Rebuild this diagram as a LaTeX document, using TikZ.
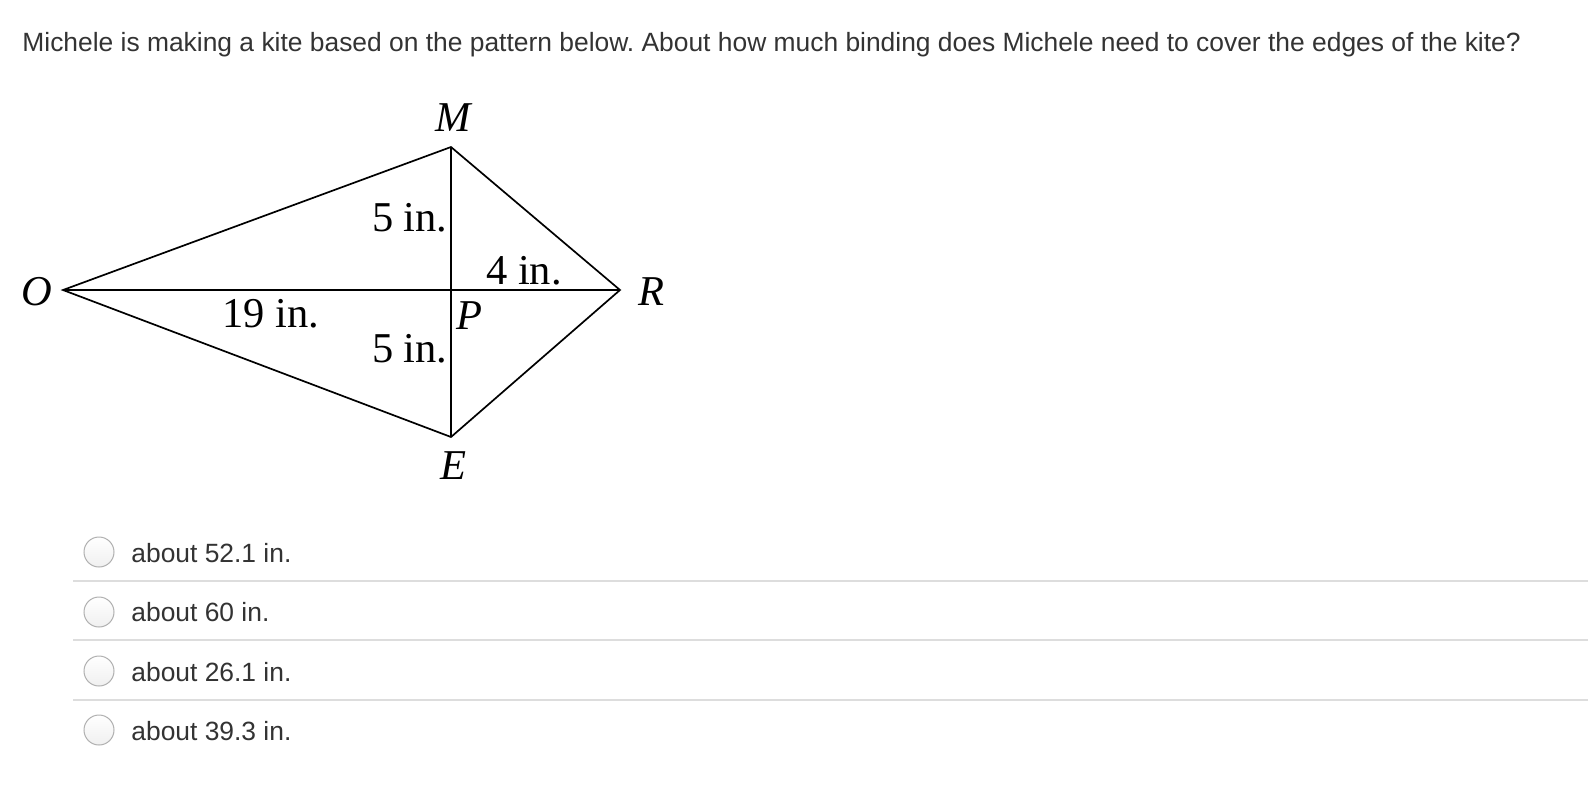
\documentclass[tikz,border=0pt]{standalone}
\usepackage{fontspec}
\setmainfont{Liberation Serif}
\newfontfamily\uisans{Liberation Sans}
\definecolor{webtext}{HTML}{333333}
\definecolor{sepline}{HTML}{DDDDDD}
\definecolor{radioedge}{HTML}{B0B0B0}
\frenchspacing
\begin{document}
\begin{tikzpicture}[x=0.5pt,y=-0.5pt,
  kiteline/.style={line width=0.85pt,black},
  vlabel/.style={font=\fontsize{21.25}{24}\selectfont\itshape,inner sep=0pt},
  mlabel/.style={font=\fontsize{21.25}{24}\selectfont,inner sep=0pt},
  uitext/.style={font=\uisans\fontsize{13.2}{16}\selectfont,text=webtext,inner sep=0pt},
  radio/.style={circle,minimum size=15pt,inner sep=0pt,draw=radioedge,line width=0.5pt,top color=white,bottom color=gray!12},
  sep/.style={draw=sepline,line width=1pt}]
\fill[white] (0,0) rectangle (1588,794);
\useasboundingbox (0,0) rectangle (1588,794);
% title
\node[uitext,anchor=base west] (title) at (22,51) {Michele is making a kite based on the pattern below. About how much binding does Michele need to cover the edges of the kite?};
% kite vertices
\coordinate (O) at (63,290);
\coordinate (R) at (620,290);
\coordinate (M) at (451,147);
\coordinate (E) at (451,437);
\coordinate (P) at (451,290);
\draw[kiteline,line join=miter] (O) -- (M) -- (R) -- (E) -- cycle;
\draw[kiteline] (O) -- (R);
\draw[kiteline] (M) -- (E);
% vertex labels
\node[vlabel] (lM) at (453,118) {M};
\node[vlabel] (lO) at (37,292) {O};
\node[vlabel] (lR) at (651,292) {R};
\node[vlabel] (lE) at (453,466) {E};
\node[vlabel] (lP) at (469,316) {P};
% measure labels
\node[mlabel,anchor=east] (m1) at (448,218) {5 in.};
\node[mlabel] (m2) at (524,271) {4 in.};
\node[mlabel] (m3) at (271,314) {19 in.};
\node[mlabel,anchor=east] (m4) at (448,349) {5 in.};
% answers
\node[radio] (r1) at (99,552) {};
\node[radio] (r2) at (99,612) {};
\node[radio] (r3) at (99,671) {};
\node[radio] (r4) at (99,730) {};
\node[uitext,anchor=base west] (a1) at (131,562) {about 52.1 in.};
\node[uitext,anchor=base west] (a2) at (131,621) {about 60 in.};
\node[uitext,anchor=base west] (a3) at (131,681) {about 26.1 in.};
\node[uitext,anchor=base west] (a4) at (131,740) {about 39.3 in.};
\coordinate (s1a) at (73,581); \coordinate (s1b) at (1588,581);
\coordinate (s2a) at (73,640); \coordinate (s2b) at (1588,640);
\coordinate (s3a) at (73,700); \coordinate (s3b) at (1588,700);
\draw[sep] (s1a) -- (s1b);
\draw[sep] (s2a) -- (s2b);
\draw[sep] (s3a) -- (s3b);
\end{tikzpicture}
\end{document}
